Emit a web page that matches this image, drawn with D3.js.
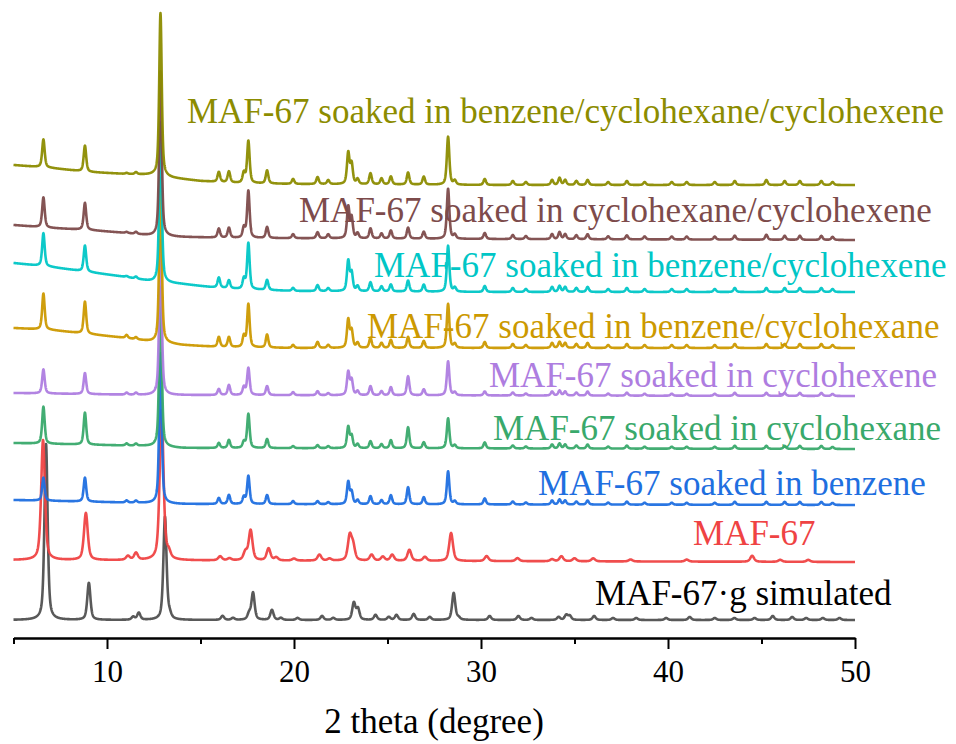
<!DOCTYPE html>
<html>
<head>
<meta charset="utf-8">
<script src="https://cdn.jsdelivr.net/npm/d3@7/dist/d3.min.js"></script>
<style>
  html, body { margin: 0; padding: 0; background: #fff; }
  svg { display: block; }
  text { font-family: "Liberation Serif", "Times New Roman", serif; }
</style>
</head>
<body>
<svg id="chart" width="956" height="744"></svg>
<script>
// ---- Axis ticks ----
const majorTicks = [10, 20, 30, 40, 50];
const minorTicks = [5, 15, 25, 35, 45];

// ---- Pattern names (bottom to top) ----
const seriesNames = [
  "MAF-67\u00b7g simulated",
  "MAF-67",
  "MAF-67 soaked in benzene",
  "MAF-67 soaked in cyclohexane",
  "MAF-67 soaked in cyclohexene",
  "MAF-67 soaked in benzene/cyclohexane",
  "MAF-67 soaked in benzene/cyclohexene",
  "MAF-67 soaked in cyclohexane/cyclohexene",
  "MAF-67 soaked in benzene/cyclohexane/cyclohexene"
];

// ---- Simulated pattern: reflection positions (2θ) and intensities ----
const simPos = [6.74, 9.03, 11.40, 11.70, 13.10, 13.35, 16.18, 16.74, 17.60, 17.81, 18.82, 19.30, 20.19, 21.50, 22.10,
  23.20, 23.42, 24.36, 25.07, 25.48, 26.40, 27.26, 28.54, 28.80, 30.46, 32.00, 32.70, 34.15, 34.56, 34.75, 36.05,
  37.06, 38.30, 39.90, 41.16, 42.50, 43.55, 44.63, 45.60, 46.64, 47.39, 48.28, 49.17];
const simInt = [176, 37, 3, 7, 103, 4, 4, 2, 6, 27, 10, 2, 2, 4, 2,
  17, 11, 5, 3, 5, 6, 3, 27, 2, 4, 4, 2, 3, 5, 4, 4,
  2, 2, 2, 3, 2, 2, 2, 4, 3, 2, 2, 2];

// ---- As-synthesized MAF-67 ----
const asPos = [6.58, 8.87, 11.12, 11.55, 12.92, 13.30, 16.05, 16.55, 17.40, 17.68, 18.64, 19.05, 20.00, 21.36, 21.90,
  22.98, 23.16, 24.15, 24.75, 25.25, 26.17, 27.00, 28.40, 30.30, 31.95, 33.80, 34.30, 35.00, 36.00, 38.00, 41.00,
  44.50, 46.00, 47.50];
const asInt = [120, 47, 4, 7, 150, 6, 4, 2, 8, 30, 12, 3, 2, 6, 2,
  24, 14, 6, 4, 6, 11, 4, 28, 5, 3, 2, 5, 3, 3, 2, 2,
  6, 2, 2];

// ---- Soaked samples share reflection positions ----
const soakPos = [6.60, 8.82, 11.05, 11.55, 12.86, 15.98, 16.52, 17.32, 17.56, 18.56, 19.95, 21.26, 21.83, 22.90, 23.08,
  23.40, 24.09, 24.68, 25.18, 26.10, 26.94, 28.24, 28.60, 30.20, 31.70, 32.40, 33.80, 34.20, 34.50, 35.10, 35.70,
  36.80, 37.80, 38.75, 40.20, 41.00, 42.50, 43.57, 45.26, 46.24, 47.05, 48.20, 48.80];
const benzeneInt = [23, 24, 2, 2, 150, 6, 9, 7, 28, 9, 3, 3, 2, 22, 12,
  4, 8, 4, 9, 17, 7, 33, 3, 6, 3, 2, 4, 5, 4, 3, 4,
  2, 3, 2, 2, 2, 2, 3, 3, 3, 3, 3, 2];
const cyclohexaneInt = [37, 32, 2, 2, 160, 5, 8, 6, 34, 9, 2, 3, 2, 21, 12,
  4, 7, 4, 8, 21, 6, 30, 3, 6, 3, 2, 4, 5, 4, 3, 4,
  2, 3, 2, 2, 2, 2, 3, 3, 3, 3, 3, 2];
const cyclohexeneInt = [24, 21, 2, 2, 155, 6, 10, 8, 27, 9, 3, 4, 2, 23, 15,
  4, 9, 4, 8, 19, 6, 34, 3, 4, 3, 2, 4, 5, 4, 3, 4,
  2, 3, 2, 2, 2, 2, 3, 3, 3, 3, 3, 2];
const bzChxInt = [36, 32, 3, 2, 165, 10, 10, 11, 43, 13, 3, 6, 3, 28, 17,
  5, 10, 5, 8, 11, 7, 44, 4, 6, 4, 3, 5, 6, 5, 4, 5,
  3, 4, 3, 3, 3, 3, 4, 4, 4, 4, 4, 3];
const bzChxeInt = [33, 26, 1, 2, 160, 10, 8, 10, 46, 10, 3, 6, 3, 30, 18,
  5, 9, 5, 7, 11, 7, 46, 4, 6, 4, 3, 5, 6, 5, 4, 5,
  3, 4, 3, 3, 3, 3, 4, 4, 4, 4, 4, 3];
const chxChxeInt = [30, 27, 1, 2, 165, 9, 10, 10, 47, 11, 4, 6, 4, 31, 20,
  5, 10, 5, 8, 11, 7, 50, 4, 6, 4, 3, 5, 7, 5, 4, 5,
  3, 4, 3, 3, 3, 3, 4, 5, 4, 4, 4, 3];
const allThreeInt = [28, 26, 1, 2, 163, 10, 11, 10, 42, 13, 5, 7, 4, 31, 20,
  5, 11, 6, 8, 12, 8, 48, 4, 6, 4, 3, 5, 7, 5, 4, 5,
  3, 4, 3, 3, 3, 3, 4, 5, 4, 4, 4, 3];

// ---- Stacked backgrounds: [2θ, offset intensity] ----
const bgSim = [[5, 18], [50, 18]];
const bgAs = [[5, 78], [50, 76]];
const bgBenzene = [[5, 138], [12, 135], [14, 134], [50, 133]];
const bgCyclohexane = [[5, 195], [12, 192], [14, 190], [50, 189]];
const bgCyclohexene = [[5, 245], [12, 243], [50, 242]];
const bgBzChx = [[5, 310], [7, 308], [9, 304], [11, 300], [12.5, 296], [14, 293], [16, 291], [20, 290], [50, 290]];
const bgBzChxe = [[5, 375], [7, 371], [9, 366], [11, 361], [12.5, 356], [14, 354], [15.5, 351], [17, 349], [20, 347], [30, 346], [50, 346]];
const bgChxChxe = [[5, 413], [7, 410], [9, 408], [11, 405], [12.5, 402], [14, 401], [17, 400], [30, 399], [50, 398]];
const bgAllThree = [[5, 473], [7, 470], [9, 466], [11, 464], [12.5, 463], [13.5, 460], [15, 457], [17, 455], [20, 454], [30, 453], [50, 453]];

// ---- Styles ----
const colors = ["#505050", "#ef4343", "#1f6fe0", "#39a96b", "#ae7de0", "#cc9900", "#00c6c6", "#7d4b4b", "#8c8c00"];
const labelColors = ["#000000", "#ef4343", "#1f6fe0", "#39a96b", "#ae7de0", "#cc9900", "#00c6c6", "#7d4b4b", "#8c8c00"];
const peakWidths = [0.20, 0.24, 0.16, 0.16, 0.16, 0.16, 0.16, 0.16, 0.16];
const labelLayout = [[595, 605], [693, 545], [538, 495], [493, 440], [489, 387], [367, 338], [374, 277], [299, 222], [187, 123]];

const reflPos = [simPos, asPos, soakPos, soakPos, soakPos, soakPos, soakPos, soakPos, soakPos];
const reflInt = [simInt, asInt, benzeneInt, cyclohexaneInt, cyclohexeneInt, bzChxInt, bzChxeInt, chxChxeInt, allThreeInt];
const backgrounds = [bgSim, bgAs, bgBenzene, bgCyclohexane, bgCyclohexene, bgBzChx, bgBzChxe, bgChxChxe, bgAllThree];

// ---- Layout ----
const svg = d3.select("#chart");
const W = 956, H = 744;
svg.append("rect").attr("width", W).attr("height", H).attr("fill", "#fff");

const axisY = 638;
const x = d3.scaleLinear().domain([5, 50]).range([13.5, 855]);
const y = d3.scaleLinear().domain([0, 630]).range([axisY, 8]);

// pseudo-Voigt reflection profile
function pv(t, p, h, w) {
  const u = (t - p) / (w / 2);
  const u2 = u * u;
  return h * (0.55 / (1 + u2) + 0.45 * Math.exp(-Math.LN2 * u2));
}

const step = 0.01;
const grid = d3.range(5, 50 + step / 2, step);

const line = d3.line().x(d => x(d[0])).y(d => y(d[1]));

const traces = svg.append("g").attr("fill", "none").attr("stroke-linejoin", "round");

seriesNames.forEach((name, i) => {
  const bgScale = d3.scaleLinear()
    .domain(backgrounds[i].map(d => d[0]))
    .range(backgrounds[i].map(d => d[1]));
  const pos = reflPos[i], ints = reflInt[i], w = peakWidths[i];
  const pts = grid.map(t => {
    let v = bgScale(t);
    for (let k = 0; k < pos.length; k++) {
      if (Math.abs(t - pos[k]) < 6) v += pv(t, pos[k], ints[k], w);
    }
    return [t, v];
  });
  traces.append("path")
    .datum(pts)
    .attr("d", line)
    .attr("stroke", colors[i])
    .attr("stroke-width", 2.6)
    .attr("stroke-opacity", 0.95);
});

// series labels
seriesNames.forEach((name, i) => {
  svg.append("text")
    .attr("x", labelLayout[i][0])
    .attr("y", labelLayout[i][1])
    .attr("font-size", 35)
    .attr("fill", labelColors[i])
    .text(name);
});

// ---- Bottom axis ----
const gMinor = svg.append("g").attr("transform", `translate(0,${axisY})`)
  .call(d3.axisBottom(x).tickValues(minorTicks).tickSize(6).tickSizeOuter(0).tickFormat(""));
const gMajor = svg.append("g").attr("transform", `translate(0,${axisY})`)
  .call(d3.axisBottom(x).tickValues(majorTicks).tickSize(11).tickSizeOuter(0).tickPadding(11).tickFormat(d3.format("d")));

[gMinor, gMajor].forEach(g => {
  g.selectAll("path.domain").attr("stroke", "#000").attr("stroke-width", 2);
  g.selectAll(".tick line").attr("stroke", "#000").attr("stroke-width", 2);
});
gMajor.selectAll(".tick text")
  .attr("font-family", "'Liberation Serif', 'Times New Roman', serif")
  .attr("font-size", 31)
  .attr("fill", "#000");

svg.append("text")
  .attr("x", 434)
  .attr("y", 733)
  .attr("text-anchor", "middle")
  .attr("font-size", 35)
  .attr("fill", "#000")
  .text("2 theta (degree)");
</script>
</body>
</html>
